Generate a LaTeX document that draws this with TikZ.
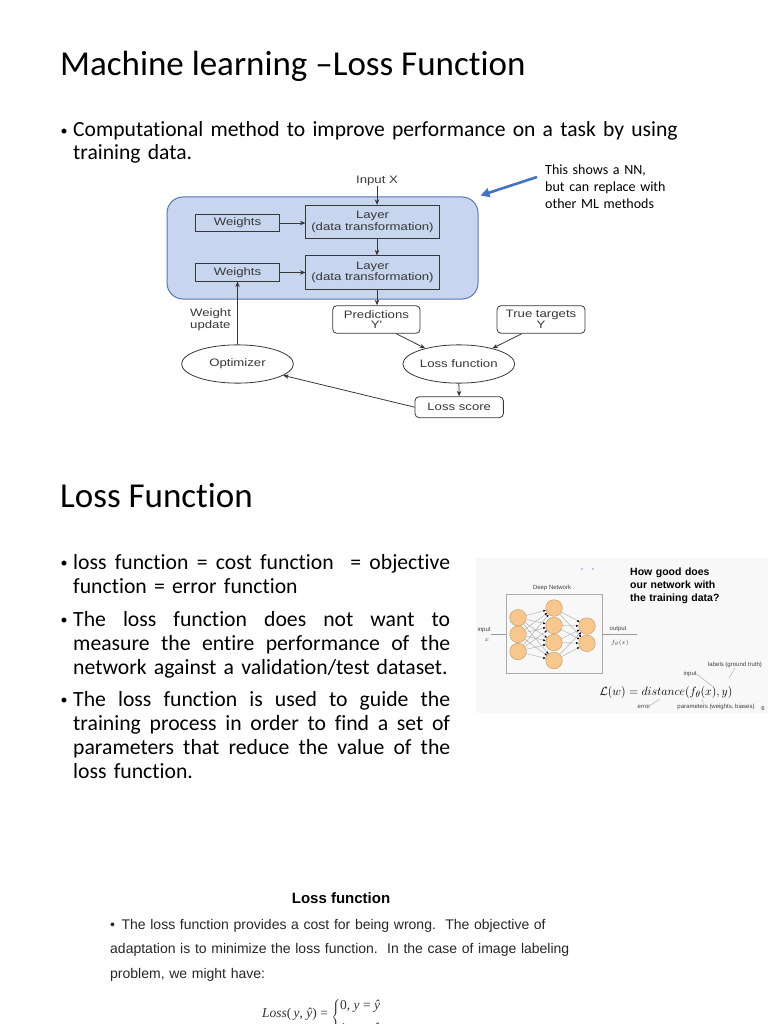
\documentclass[tikz,border=0pt]{standalone}
\usepackage{fontspec}
\setmainfont[Ligatures=NoCommon]{Carlito}
\newfontfamily\diagfont[FakeStretch=1.22]{Liberation Sans}
\newfontfamily\arialfont{Liberation Sans}
\newfontfamily\timesfont{Liberation Serif}
\usetikzlibrary{shapes.geometric,arrows.meta,calc}
\definecolor{nnblue}{RGB}{200,213,238}
\definecolor{nnborder}{RGB}{86,118,182}
\definecolor{diag}{RGB}{55,55,55}
\definecolor{callout}{RGB}{68,114,196}
\definecolor{neuron}{RGB}{248,199,142}
\definecolor{neuronb}{RGB}{196,148,96}
\definecolor{nnbg}{RGB}{248,248,248}
\newcommand{\bul}{\leavevmode\llap{\raisebox{1.5pt}{\fontsize{14}{14}\selectfont•}\hspace{5.5pt}}}
\newcommand{\jl}[1]{\leavevmode\hbox to 377pt{\spaceskip=0.226em plus 10em\relax #1}}
\begin{document}
\begin{tikzpicture}[x=1pt,y=-1pt,
  dfont/.style={font=\diagfont\fontsize{10.8}{11.5}\selectfont, text=diag},
  wbox/.style={draw=diag, line width=0.8pt, inner sep=0pt, minimum width=83.6pt, minimum height=17.4pt, dfont},
  lbox/.style={draw=diag, line width=0.8pt, inner sep=0pt, minimum width=133.3pt, minimum height=33.5pt, dfont, align=center},
  rbox/.style={draw=diag, line width=0.8pt, rounded corners=4pt, inner sep=0pt, dfont, align=center},
  oval/.style={ellipse, draw=diag, line width=0.8pt, inner sep=0pt, minimum width=111.8pt, minimum height=38.3pt, dfont},
  arr/.style={draw=diag, line width=0.8pt, -{Stealth[length=5.5pt,width=4.5pt]}},
  title/.style={inner sep=0pt, anchor=base west, font=\fontsize{35}{40}\selectfont},
  body/.style={inner sep=0pt, anchor=base west, align=left, font=\fontsize{21.7}{24}\selectfont},
  tiny/.style={inner sep=0pt, font=\arialfont\fontsize{6}{7}\selectfont, text=black!75},
  neuronnode/.style={circle, fill=neuron, draw=neuronb, line width=0.4pt, minimum size=16.6pt, inner sep=0pt},
  conn/.style={draw=gray!75, line width=0.35pt, -{Latex[length=2.4pt,width=2.2pt,color=black]}},
  ptr/.style={draw=gray!70, line width=0.4pt},
  botfont/.style={font=\arialfont\fontsize{14}{24.5}\selectfont, text=black!85}
]
\path[use as bounding box] (0,0) rectangle (768,1024);
\clip (0,0) rectangle (768,1024);

% ---------- Slide 1 ----------
\node[title] (t1) at (60,76) {Machine learning –Loss Function};
\node[body, text width=660pt, font=\fontsize{21.6}{23}\selectfont] (b1) at (73,137)
  {\bul Computational method to improve performance on a task by using\\training data.};

% panel
\node[draw=nnborder, fill=nnblue, line width=1pt, rounded corners=16pt, minimum width=311pt, minimum height=102pt, inner sep=0pt] (panel) at (322.5,248) {};

\node[dfont, inner sep=0pt] (inx) at (377,180.5) {Input X};
\node[lbox] (layer1) at (372.5,222) {Layer\\(data transformation)};
\node[lbox] (layer2) at (372.5,272.5) {Layer\\(data transformation)};
\node[wbox] (w1) at (237.5,223) {Weights};
\node[wbox] (w2) at (237.5,272.5) {Weights};
\node[rbox, minimum width=87.3pt, minimum height=27.6pt, font=\diagfont\fontsize{10.8}{9.5}\selectfont] (pred) at (376.4,319.5) {Predictions\\Y'};
\node[rbox, minimum width=88pt, minimum height=27.6pt, font=\diagfont\fontsize{10.8}{9.5}\selectfont] (truet) at (541,319.5) {True targets\\Y};
\node[oval] (opt) at (237.5,364) {Optimizer};
\node[oval] (lossfn) at (458.8,364) {Loss function};
\node[rbox, minimum width=88.3pt, minimum height=21pt] (score) at (459.2,407.2) {Loss score};
\node[dfont, inner sep=0pt, anchor=base west, align=left, text width=50pt, font=\diagfont\fontsize{10.8}{11.7}\selectfont] (wupd) at (190,316.5) {Weight\\update};

\draw[arr] (inx.south) -- (inx.south |- layer1.north);
\draw[arr] (inx.south |- layer1.south) -- (inx.south |- layer2.north);
\draw[arr] (inx.south |- layer2.south) -- (inx.south |- pred.north);
\draw[arr] (w1.east) -- (layer1.west |- w1.east);
\draw[arr] (w2.east) -- (layer2.west |- w2.east);
\draw[arr] (opt.north) -- (w2.south);
\draw[arr] ($(pred.south)!0.45!(pred.south east)$) -- (lossfn.155);
\draw[arr] ($(truet.south)!0.43!(truet.south west)$) -- (lossfn.25);
\draw[arr] (lossfn.south) -- (score.north);
\draw[arr] (score.west) -- (opt.-14);

% callout
\node[inner sep=0pt, anchor=base west, align=left, text width=140pt, font=\fontsize{14}{17}\selectfont] (callouttext) at (545,174.5)
  {This shows a NN,\\but can replace with\\other ML methods};
\coordinate (calloutstart) at (537,177);
\draw[callout, line width=2.6pt, -{Triangle[length=9pt,width=9pt]}] (calloutstart) -- ($(panel.north east)+(2,-1)$);

% ---------- Slide 2 ----------
\node[title] (t2) at (60,507) {Loss Function};

\node[body, text width=400pt] (lb1) at (73,569)
  {\bul\jl{loss function = cost function \ = objective}\\function = error function};
\node[body, text width=400pt] (lb2) at (73,626)
  {\bul\jl{The loss function does not want to}\\\jl{measure the entire performance of the}\\network against a validation/test dataset.};
\node[body, text width=400pt] (lb3) at (73,706)
  {\bul\jl{The loss function is used to guide the}\\\jl{training process in order to find a set of}\\\jl{parameters that reduce the value of the}\\loss function.};

% NN figure
\fill[nnbg] (476,558) rectangle (768,713);
\fill[blue!45] (582,569) circle (0.8);
\fill[blue!45] (593,569) circle (0.8);
\node[inner sep=0pt, anchor=base west, align=left, text width=120pt, font=\arialfont\bfseries\fontsize{10.5}{13}\selectfont] (howgood) at (630,575)
  {How good does\\our network with\\the training data?};
\node[draw=gray!65, line width=0.5pt, minimum width=96pt, minimum height=79pt, inner sep=0pt] (dn) at (554,633.5) {};
\node[tiny] (dnlabel) at (552,588) {Deep Network};
\foreach \n/\x/\y in {11/518/617.7,12/518/634.3,13/518/651.5,
                      21/554/608,22/554/625.5,23/554/642.5,24/554/660.5,
                      31/587/626,32/587/643.3}
  \node[neuronnode] (n\n) at (\x,\y) {};
\foreach \a in {11,12,13}
  \foreach \b in {21,22,23,24}
    \draw[conn] (n\a) -- (n\b);
\foreach \a in {21,22,23,24}
  \foreach \b in {31,32}
    \draw[conn] (n\a) -- (n\b);
\node[tiny] (inlab) at (484,629.5) {input};
\node[tiny] (inx2) at (487,640.5) {$x$};
\coordinate (nninstart) at (491,634);
\draw[draw=gray!80, line width=0.4pt] (nninstart) -- (dn.west |- nninstart);
\node[tiny] (outlab) at (618,629.5) {output};
\node[tiny, font=\fontsize{6.5}{7}\selectfont] (outf) at (620,643) {$f_\theta(x)$};
\coordinate (nnoutend) at (637,634);
\draw[draw=gray!80, line width=0.4pt] (dn.east |- nnoutend) -- (nnoutend);

\node[inner sep=0pt, font=\fontsize{12.7}{14}\selectfont] (lform) at (666,692) {$\mathcal{L}(w) = distance(f_\theta(x), y)$};
\node[tiny] (annlab) at (735,665) {labels (ground truth)};
\node[tiny] (annin) at (690,674) {input};
\node[tiny] (annerr) at (644,707) {error};
\node[tiny] (annpar) at (716,707) {parameters (weights, biases)};
\node[tiny] (pagenum) at (763,708) {6};
\coordinate (pin) at (712,686);
\coordinate (plab) at (729,678);
\coordinate (perr) at (660,699);
\coordinate (ppar) at (702,699);
\draw[ptr] (annin.east) -- (pin);
\draw[ptr] (annlab.south) -- (plab);
\draw[ptr] (annerr.north east) -- (perr);
\draw[ptr] ($(annpar.north west)+(26,0)$) -- (ppar);

% ---------- Slide 3 ----------
\node[inner sep=0pt, anchor=base, font=\arialfont\bfseries\fontsize{15}{18}\selectfont] (t3) at (341,903.5) {Loss function};
\node[inner sep=0pt, anchor=base west, align=left, text width=520pt, botfont] (p3) at (110,929)
  {•\hspace{6.5pt}The loss function provides a cost for being wrong.\ \ The objective of\\adaptation is to minimize the loss function.\ \ In the case of image labeling\\problem, we might have:};
\node[inner sep=0pt, anchor=base west, text=black!80, font=\timesfont\fontsize{13.5}{16}\selectfont] (lossformula) at (262,1017)
  {\textit{Loss}(\,\textit{y}, \textit{ŷ}) = \raisebox{-4pt}{$\left\{\begin{tabular}{@{}l@{}}0, \textit{y} = \textit{ŷ}\\[7pt]1, \textit{y} ≠ \textit{ŷ}\end{tabular}\right.$}};
\end{tikzpicture}
\end{document}
